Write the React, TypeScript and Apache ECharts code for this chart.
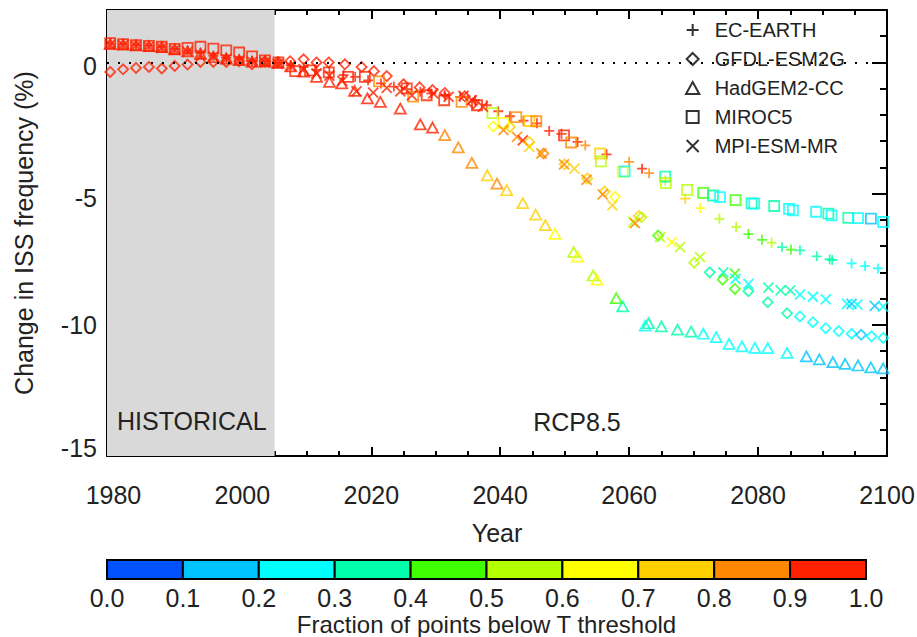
import React, { useEffect, useRef } from 'react';
import * as echarts from 'echarts';

// ---------- data ----------
const histYears = [1979.5, 1981.5, 1983.5, 1985.5, 1987.5, 1989.5, 1991.5, 1993.5, 1995.5, 1997.5, 1999.5, 2001.5, 2003.5];
const histFrac = [0.95, 0.95, 0.95, 0.95, 0.95, 0.95, 0.95, 0.95, 0.95, 0.95, 0.95, 0.95, 0.95];

// EC-EARTH
const ecHist = [0.72, 0.70, 0.67, 0.64, 0.60, 0.52, 0.45, 0.37, 0.25, 0.18, 0.12, 0.06, 0.04];
const ecYears = [2005.5, 2007.5, 2009.5, 2011.5, 2013.5, 2015.7, 2017.5, 2019.5, 2021.5, 2023.5, 2025.5, 2027.6, 2029.3, 2031.4, 2033.8, 2036.1, 2037.9, 2039.7, 2041.5, 2043.6, 2045.7, 2047.6, 2049.5, 2052.0, 2053.2, 2056.5, 2060.0, 2062.0, 2063.1, 2065.6, 2068.7, 2071.0, 2074.0, 2076.6, 2078.5, 2080.6, 2082.1, 2083.7, 2085.1, 2086.5, 2089.1, 2091.1, 2091.5, 2094.5, 2096.6, 2098.6];
const ecValues = [-0.02, -0.10, -0.18, -0.28, -0.38, -0.48, -0.55, -0.68, -0.80, -0.92, -1.02, -1.12, -1.18, -1.25, -1.31, -1.44, -1.63, -1.86, -2.05, -2.22, -2.32, -2.61, -2.72, -3.03, -3.16, -3.50, -3.79, -4.05, -4.22, -4.50, -5.19, -5.55, -5.96, -6.27, -6.54, -6.76, -6.87, -7.04, -7.13, -7.16, -7.39, -7.50, -7.53, -7.66, -7.76, -7.85];
const ecFrac = [0.95, 0.95, 0.95, 0.95, 0.95, 0.95, 0.95, 0.95, 0.95, 0.95, 0.95, 0.95, 0.95, 0.95, 0.95, 0.95, 0.95, 0.95, 0.95, 0.95, 0.95, 0.95, 0.95, 0.95, 0.85, 0.95, 0.85, 0.92, 0.85, 0.55, 0.72, 0.65, 0.55, 0.52, 0.45, 0.45, 0.50, 0.38, 0.42, 0.35, 0.35, 0.32, 0.30, 0.25, 0.25, 0.25];

// GFDL-ESM2G
const gfHist = [-0.36, -0.26, -0.21, -0.17, -0.23, -0.13, -0.08, 0.02, 0.02, 0.02, 0.05, -0.07, 0.05];
const gfYears = [2005.5, 2007.4, 2009.5, 2011.5, 2013.4, 2015.9, 2018.5, 2020.4, 2022.4, 2025.0, 2027.5, 2029.5, 2031.4, 2034.5, 2035.8, 2038.9, 2041.5, 2044.5, 2046.7, 2050.0, 2053.5, 2056.2, 2057.8, 2061.5, 2061.9, 2064.5, 2070.1, 2072.5, 2074.5, 2076.4, 2078.5, 2081.5, 2084.5, 2086.5, 2088.5, 2090.5, 2092.5, 2094.5, 2096.0, 2097.6, 2099.4];
const gfValues = [0.02, 0.05, 0.12, 0.0, 0.0, -0.07, -0.17, -0.33, -0.52, -0.83, -0.95, -1.05, -1.16, -1.29, -1.56, -2.44, -2.46, -3.03, -3.47, -3.88, -4.42, -4.92, -5.12, -5.85, -5.90, -6.60, -7.63, -8.00, -8.28, -8.63, -8.72, -9.14, -9.56, -9.68, -9.90, -10.13, -10.24, -10.34, -10.38, -10.44, -10.50];
const gfFrac = [0.95, 0.95, 0.95, 0.95, 0.95, 0.95, 0.95, 0.95, 0.95, 0.95, 0.95, 0.95, 0.95, 0.95, 0.95, 0.65, 0.75, 0.72, 0.85, 0.72, 0.75, 0.75, 0.65, 0.72, 0.58, 0.48, 0.52, 0.32, 0.42, 0.45, 0.30, 0.33, 0.32, 0.25, 0.25, 0.25, 0.25, 0.25, 0.15, 0.25, 0.25];

// HadGEM2-CC
const hgHist = [0.70, 0.68, 0.65, 0.62, 0.58, 0.50, 0.42, 0.33, 0.20, 0.15, 0.09, 0.03, 0.03];
const hgYears = [2005.5, 2007.5, 2009.5, 2011.5, 2013.5, 2015.4, 2017.4, 2019.4, 2021.4, 2024.5, 2027.6, 2029.5, 2031.4, 2033.5, 2035.6, 2038.0, 2039.5, 2041.0, 2043.5, 2045.5, 2047.0, 2048.5, 2051.4, 2052.0, 2054.4, 2055.0, 2058.0, 2059.0, 2062.5, 2063.0, 2065.0, 2067.5, 2069.6, 2071.5, 2073.5, 2075.5, 2077.5, 2079.5, 2081.5, 2084.5, 2087.5, 2089.5, 2091.6, 2093.5, 2095.5, 2097.5, 2099.4];
const hgValues = [-0.02, -0.15, -0.35, -0.55, -0.74, -0.80, -1.08, -1.37, -1.50, -1.76, -2.36, -2.48, -2.77, -3.24, -3.83, -4.30, -4.62, -4.87, -5.36, -5.80, -6.20, -6.53, -7.23, -7.40, -8.12, -8.28, -8.98, -9.30, -10.03, -9.94, -10.06, -10.18, -10.26, -10.34, -10.47, -10.73, -10.82, -10.88, -10.89, -11.07, -11.20, -11.32, -11.42, -11.49, -11.55, -11.62, -11.66];
const hgFrac = [0.95, 0.95, 0.95, 0.95, 0.95, 0.95, 0.95, 0.95, 0.95, 0.92, 0.95, 0.95, 0.85, 0.85, 0.82, 0.75, 0.82, 0.75, 0.75, 0.75, 0.72, 0.65, 0.55, 0.65, 0.55, 0.62, 0.45, 0.35, 0.25, 0.35, 0.35, 0.35, 0.35, 0.28, 0.25, 0.25, 0.25, 0.25, 0.25, 0.20, 0.15, 0.15, 0.15, 0.15, 0.15, 0.15, 0.15];

// MIROC5
const miHist = [0.74, 0.70, 0.66, 0.63, 0.60, 0.52, 0.56, 0.60, 0.53, 0.46, 0.38, 0.23, 0.08];
const miYears = [2005.6, 2008.2, 2010.5, 2013.4, 2016.4, 2019.0, 2021.2, 2025.5, 2026.5, 2028.6, 2031.3, 2034.0, 2036.4, 2038.8, 2040.5, 2042.5, 2044.5, 2045.6, 2049.9, 2051.0, 2055.5, 2055.6, 2059.0, 2059.3, 2065.6, 2065.7, 2069.0, 2071.5, 2073.0, 2074.1, 2076.5, 2079.0, 2079.4, 2082.5, 2084.8, 2085.4, 2089.0, 2090.9, 2091.4, 2094.0, 2095.5, 2097.5, 2099.4];
const miValues = [0.0, -0.33, -0.30, -0.38, -0.55, -0.55, -0.72, -0.99, -1.30, -1.25, -1.44, -1.50, -1.63, -1.93, -2.30, -2.08, -2.23, -2.24, -2.78, -3.05, -3.47, -3.77, -4.17, -4.15, -4.35, -4.60, -4.86, -4.97, -5.07, -5.13, -5.25, -5.37, -5.38, -5.47, -5.58, -5.64, -5.69, -5.76, -5.83, -5.92, -5.93, -5.95, -6.08];
const miFrac = [0.95, 0.95, 0.95, 0.95, 0.95, 0.95, 0.85, 0.92, 0.85, 0.95, 0.95, 0.88, 0.95, 0.55, 0.65, 0.85, 0.75, 0.85, 0.95, 0.85, 0.75, 0.50, 0.62, 0.25, 0.30, 0.55, 0.55, 0.45, 0.30, 0.25, 0.42, 0.35, 0.28, 0.35, 0.25, 0.28, 0.25, 0.32, 0.28, 0.32, 0.28, 0.15, 0.25];

// MPI-ESM-MR
const mpHist = [0.68, 0.66, 0.63, 0.60, 0.56, 0.48, 0.40, 0.30, 0.22, 0.13, 0.08, 0.02, 0.0];
const mpYears = [2005.5, 2007.5, 2009.5, 2011.5, 2013.5, 2015.5, 2017.7, 2020.3, 2022.4, 2024.5, 2026.3, 2029.6, 2032.0, 2034.3, 2035.6, 2037.3, 2040.5, 2042.6, 2043.5, 2044.5, 2046.4, 2049.9, 2051.5, 2053.4, 2055.9, 2057.4, 2060.6, 2060.9, 2064.8, 2066.6, 2067.9, 2071.0, 2074.6, 2076.4, 2076.5, 2078.5, 2081.6, 2083.5, 2085.0, 2086.5, 2088.5, 2090.5, 2093.8, 2094.5, 2095.4, 2098.1, 2099.4];
const mpValues = [-0.05, -0.15, -0.25, -0.42, -0.50, -0.70, -1.10, -1.15, -0.97, -1.10, -1.25, -1.18, -1.31, -1.27, -1.44, -1.68, -2.58, -2.84, -2.97, -3.22, -3.47, -3.88, -4.05, -4.47, -5.03, -5.45, -6.08, -6.12, -6.66, -6.85, -7.04, -7.42, -8.00, -8.05, -8.25, -8.44, -8.58, -8.69, -8.69, -8.85, -8.93, -9.03, -9.20, -9.20, -9.23, -9.28, -9.31];
const mpFrac = [0.95, 0.95, 0.95, 0.95, 0.95, 0.95, 0.95, 0.95, 0.95, 0.95, 0.95, 0.95, 0.95, 0.95, 0.95, 0.95, 0.85, 0.85, 0.95, 0.70, 0.85, 0.80, 0.75, 0.82, 0.82, 0.70, 0.55, 0.80, 0.55, 0.65, 0.50, 0.55, 0.33, 0.45, 0.28, 0.25, 0.33, 0.33, 0.33, 0.25, 0.25, 0.25, 0.25, 0.18, 0.22, 0.15, 0.25];

const modelNames = ['EC-EARTH', 'GFDL-ESM2G', 'HadGEM2-CC', 'MIROC5', 'MPI-ESM-MR'];

// colour scale
const binEdges = [0.0, 0.1, 0.2, 0.3, 0.4, 0.5, 0.6, 0.7, 0.8, 0.9, 1.0];
const binColors = ['#0052ff', '#00c4ff', '#00ffff', '#00ffaa', '#40ff00', '#b4ff00', '#ffff00', '#ffd000', '#ff8800', '#ff2200'];

// axis ticks
const xMajorTicks = [1980, 2000, 2020, 2040, 2060, 2080, 2100];
const xMinorTicks = [1985, 1990, 1995, 2005, 2010, 2015, 2025, 2030, 2035, 2045, 2050, 2055, 2065, 2070, 2075, 2085, 2090, 2095];
const yMajorTicks = [-15, -10, -5, 0];
const yMinorTicks = [-14, -13, -12, -11, -9, -8, -7, -6, -4, -3, -2, -1, 1];
const historicalRange = [1979, 2005];

// ---------- styling ----------
const FONT = 'Liberation Sans, Arial, Helvetica, sans-serif';
const TXT = '#222';

const SYM_PLUS = 'path://M5,0L5,10M0,5L10,5';
const SYM_DIAMOND = 'path://M5,0L10,5L5,10L0,5Z';
const SYM_TRIANGLE = 'path://M5,0L10,9L0,9Z';
const SYM_SQUARE = 'path://M0,0L10,0L10,10L0,10Z';
const SYM_CROSS = 'path://M0,0L10,10M10,0L0,10';

function colorOf(f: number): string {
  let i = Math.floor(f * 10);
  if (i > 9) i = 9;
  if (i < 0) i = 0;
  return binColors[i];
}

function buildData(hist: number[], years: number[], values: number[], fracs: number[]) {
  const out: any[] = [];
  histYears.forEach((y, i) => out.push({ value: [y, hist[i]], itemStyle: { borderColor: colorOf(histFrac[i]) } }));
  years.forEach((y, i) => out.push({ value: [y, values[i]], itemStyle: { borderColor: colorOf(fracs[i]) } }));
  return out;
}

function scatter(name: string, symbol: string, size: any, data: any[]) {
  return {
    type: 'scatter',
    name,
    xAxisIndex: 0,
    yAxisIndex: 0,
    symbol,
    symbolSize: size,
    z: 3,
    silent: true,
    itemStyle: { color: 'transparent', borderColor: '#000', borderWidth: 1.8 },
    emphasis: { disabled: true },
    data,
  };
}

function hiddenAxisBase() {
  return {
    splitLine: { show: false },
    axisLabel: { show: false },
  };
}

export default function App() {
  const ref = useRef<HTMLDivElement>(null);

  useEffect(() => {
    if (!ref.current) return;
    const chart = echarts.init(ref.current, null, { renderer: 'svg' });

    const tickStyle = { color: '#000', width: 2 };
    const xBase = { type: 'value', gridIndex: 0, min: historicalRange[0], max: 2100 };
    const yBase = { type: 'value', gridIndex: 0, min: -15, max: 2 };

    const option: any = {
      animation: false,
      backgroundColor: '#fff',
      grid: [
        { left: 107, top: 10, width: 780, height: 446, outerBoundsMode: 'none', containLabel: false },
        { left: 107, top: 560, width: 759, height: 19, outerBoundsMode: 'none', containLabel: false },
      ],
      xAxis: [
        {
          ...xBase,
          position: 'bottom',
          axisLine: { show: true, onZero: false, lineStyle: { color: '#000', width: 2 } },
          axisTick: { show: true, inside: true, length: 9, customValues: xMajorTicks, lineStyle: tickStyle },
          axisLabel: { show: true, customValues: xMajorTicks, fontSize: 25, color: TXT, fontFamily: FONT, margin: 26, formatter: (v: number) => String(Math.round(v)) },
          splitLine: { show: false },
          name: 'Year',
          nameLocation: 'middle',
          nameGap: 64,
          nameMoveOverlap: false,
          nameTextStyle: { fontSize: 25, color: TXT, fontFamily: FONT },
        },
        {
          ...xBase, ...hiddenAxisBase(),
          position: 'bottom',
          axisLine: { show: false, onZero: false },
          axisTick: { show: true, inside: true, length: 5, customValues: xMinorTicks, lineStyle: tickStyle },
        },
        {
          ...xBase, ...hiddenAxisBase(),
          position: 'top',
          axisLine: { show: true, onZero: false, lineStyle: { color: '#000', width: 2 } },
          axisTick: { show: true, inside: true, length: 9, customValues: xMajorTicks, lineStyle: tickStyle },
        },
        {
          ...xBase, ...hiddenAxisBase(),
          position: 'top',
          axisLine: { show: false, onZero: false },
          axisTick: { show: true, inside: true, length: 5, customValues: xMinorTicks, lineStyle: tickStyle },
        },
        {
          type: 'value', gridIndex: 1, min: 0, max: 1, interval: 0.1, position: 'bottom',
          axisLine: { show: false },
          axisTick: { show: false },
          splitLine: { show: false },
          axisLabel: { show: true, fontSize: 25, lineHeight: 24, color: TXT, fontFamily: FONT, margin: 7, formatter: (v: number) => v.toFixed(1) },
          name: 'Fraction of points below T threshold',
          nameLocation: 'middle',
          nameGap: 33,
          nameMoveOverlap: false,
          nameTextStyle: { fontSize: 24, lineHeight: 24, color: TXT, fontFamily: FONT },
        },
      ],
      yAxis: [
        {
          ...yBase,
          position: 'left',
          axisLine: { show: true, onZero: false, lineStyle: { color: '#000', width: 2 } },
          axisTick: { show: true, inside: true, length: 15, customValues: yMajorTicks, lineStyle: tickStyle },
          axisLabel: {
            show: true, customValues: yMajorTicks, fontSize: 25, color: TXT, fontFamily: FONT, margin: 10,
            formatter: (v: number) => (v === -15 ? '{up|' + v + '}' : v === 0 || v === -5 ? '{dn|' + v + '}' : String(v)),
            rich: {
              up: { fontSize: 25, color: TXT, fontFamily: FONT, padding: [0, 0, 16, 0] },
              dn: { fontSize: 25, color: TXT, fontFamily: FONT, padding: [8, 0, 0, 0] },
            },
          },
          splitLine: { show: false },
          name: 'Change in ISS frequency (%)',
          nameLocation: 'middle',
          nameGap: 71,
          nameMoveOverlap: false,
          nameTextStyle: { fontSize: 25, color: TXT, fontFamily: FONT },
        },
        {
          ...yBase, ...hiddenAxisBase(),
          position: 'left',
          axisLine: { show: false, onZero: false },
          axisTick: { show: true, inside: true, length: 8, customValues: yMinorTicks, lineStyle: tickStyle },
        },
        {
          ...yBase, ...hiddenAxisBase(),
          position: 'right',
          axisLine: { show: true, onZero: false, lineStyle: { color: '#000', width: 2 } },
          axisTick: { show: true, inside: true, length: 15, customValues: yMajorTicks, lineStyle: tickStyle },
        },
        {
          ...yBase, ...hiddenAxisBase(),
          position: 'right',
          axisLine: { show: false, onZero: false },
          axisTick: { show: true, inside: true, length: 7, customValues: yMinorTicks, lineStyle: tickStyle },
        },
        {
          type: 'value', gridIndex: 1, min: 0, max: 1, show: false,
        },
      ],
      legend: {
        show: true,
        orient: 'vertical',
        left: 680,
        top: 15,
        itemWidth: 30,
        itemHeight: 12,
        itemGap: 9,
        selectedMode: false,
        data: modelNames,
        textStyle: { fontSize: 20, color: TXT, fontFamily: FONT, padding: [0, 0, 0, 2] },
      },
      graphic: [
        { type: 'text', x: 117, y: 421, z: 20, silent: true, style: { text: 'HISTORICAL', fontSize: 25, fontFamily: FONT, fill: TXT, textAlign: 'left', textVerticalAlign: 'middle' } },
        { type: 'text', x: 577, y: 422, z: 20, silent: true, style: { text: 'RCP8.5', fontSize: 25, fontFamily: FONT, fill: TXT, textAlign: 'center', textVerticalAlign: 'middle' } },
      ],
      series: [
        {
          type: 'line',
          xAxisIndex: 0,
          yAxisIndex: 0,
          data: [],
          silent: true,
          z: 1,
          markArea: {
            silent: true,
            itemStyle: { color: '#d9d9d9' },
            data: [[{ xAxis: historicalRange[0] }, { xAxis: historicalRange[1] }]],
          },
          markLine: {
            silent: true,
            symbol: ['none', 'none'],
            label: { show: false },
            lineStyle: { color: '#000', type: [2, 9], width: 2 },
            data: [{ yAxis: 0 }],
          },
        },
        scatter(modelNames[0], SYM_PLUS, 10, buildData(ecHist, ecYears, ecValues, ecFrac)),
        scatter(modelNames[1], SYM_DIAMOND, 10, buildData(gfHist, gfYears, gfValues, gfFrac)),
        scatter(modelNames[2], SYM_TRIANGLE, [11, 10], buildData(hgHist, hgYears, hgValues, hgFrac)),
        scatter(modelNames[3], SYM_SQUARE, 10, buildData(miHist, miYears, miValues, miFrac)),
        scatter(modelNames[4], SYM_CROSS, 10, buildData(mpHist, mpYears, mpValues, mpFrac)),
        {
          type: 'custom',
          xAxisIndex: 4,
          yAxisIndex: 4,
          silent: true,
          data: binColors.map((c, i) => [binEdges[i], binEdges[i + 1]]),
          renderItem: (params: any, api: any) => {
            const p0 = api.coord([api.value(0), 1]);
            const p1 = api.coord([api.value(1), 0]);
            return {
              type: 'rect',
              shape: { x: p0[0], y: p0[1], width: p1[0] - p0[0], height: p1[1] - p0[1] },
              style: { fill: binColors[params.dataIndex], stroke: '#000', lineWidth: 2 },
            };
          },
        },
      ],
    };

    chart.setOption(option);
    return () => chart.dispose();
  }, []);

  return (
    <div
      ref={ref}
      style={{ position: 'fixed', left: 0, top: 0, width: 917, height: 637, background: '#fff' }}
    />
  );
}
